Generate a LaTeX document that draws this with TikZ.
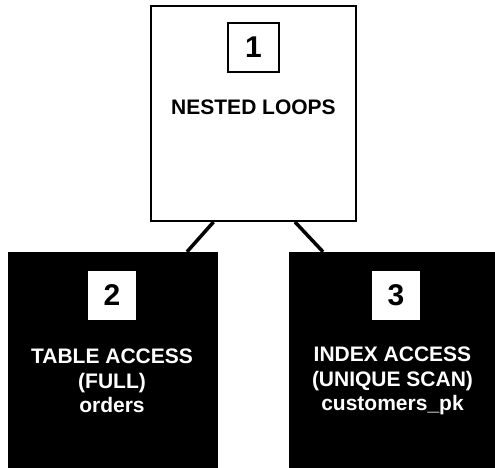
\documentclass[tikz,border=0pt]{standalone}
\usepackage{fontspec}
\setmainfont{Liberation Sans}
\usetikzlibrary{calc}
\begin{document}
\begin{tikzpicture}
			[x=1pt,y=-1pt,
			step node/.style={draw,line width=2pt,minimum width=205pt,minimum height=215pt,inner sep=0pt},
			dark node/.style={fill=black,minimum width=210pt,minimum height=216pt,inner sep=0pt},
			num/.style={draw,line width=2pt,fill=white,minimum width=51pt,minimum height=49pt,inner sep=0pt,font=\fontsize{30}{30}\selectfont\bfseries},
			numw/.style={fill=white,minimum width=48pt,minimum height=49pt,inner sep=0pt,font=\fontsize{30}{30}\selectfont\bfseries},
			label/.style={align=center,inner sep=0pt,font=\fontsize{21}{24.5}\selectfont\bfseries},
			link/.style={line width=3.5pt}]
			\useasboundingbox (0,0) rectangle (495,468);
			\node[step node,name=loops] at (253.5,113.5) {};
			\node[num,name=n1] at (253.5,47.5) {1};
			\node[label,anchor=base,name=t1] at (253.5,115) {NESTED LOOPS};
			\node[dark node,name=full] at (113,360) {};
			\node[numw,name=n2] at (112,295.5) {2};
			\node[label,text=white,name=t2] at (112,381) {TABLE ACCESS\\(FULL)\\orders};
			\node[dark node,name=unique] at (393.5,360) {};
			\node[numw,name=n3] at (396,295.5) {3};
			\node[label,text=white,name=t3] at (392.5,381) {INDEX ACCESS\\(UNIQUE SCAN)\\customers\_pk};
			\draw[link]([xshift=-40pt]loops.south)--([xshift=74pt]full.north);
			\draw[link]([xshift=41.5pt]loops.south)--([xshift=-70.5pt]unique.north);
		\end{tikzpicture}
\end{document}
